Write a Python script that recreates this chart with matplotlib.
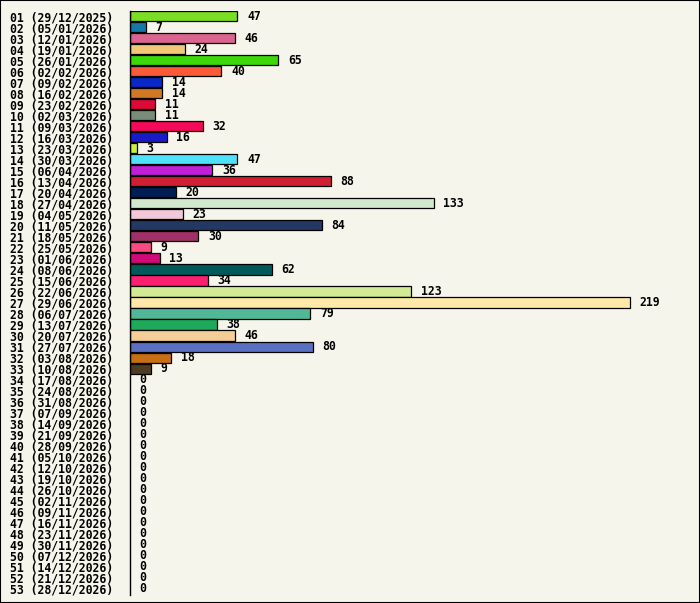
import matplotlib.pyplot as plt
from matplotlib.patches import Rectangle

# Weekly counts
week_labels = [
    "01 (29/12/2025)", "02 (05/01/2026)", "03 (12/01/2026)", "04 (19/01/2026)",
    "05 (26/01/2026)", "06 (02/02/2026)", "07 (09/02/2026)", "08 (16/02/2026)",
    "09 (23/02/2026)", "10 (02/03/2026)", "11 (09/03/2026)", "12 (16/03/2026)",
    "13 (23/03/2026)", "14 (30/03/2026)", "15 (06/04/2026)", "16 (13/04/2026)",
    "17 (20/04/2026)", "18 (27/04/2026)", "19 (04/05/2026)", "20 (11/05/2026)",
    "21 (18/05/2026)", "22 (25/05/2026)", "23 (01/06/2026)", "24 (08/06/2026)",
    "25 (15/06/2026)", "26 (22/06/2026)", "27 (29/06/2026)", "28 (06/07/2026)",
    "29 (13/07/2026)", "30 (20/07/2026)", "31 (27/07/2026)", "32 (03/08/2026)",
    "33 (10/08/2026)", "34 (17/08/2026)", "35 (24/08/2026)", "36 (31/08/2026)",
    "37 (07/09/2026)", "38 (14/09/2026)", "39 (21/09/2026)", "40 (28/09/2026)",
    "41 (05/10/2026)", "42 (12/10/2026)", "43 (19/10/2026)", "44 (26/10/2026)",
    "45 (02/11/2026)", "46 (09/11/2026)", "47 (16/11/2026)", "48 (23/11/2026)",
    "49 (30/11/2026)", "50 (07/12/2026)", "51 (14/12/2026)", "52 (21/12/2026)",
    "53 (28/12/2026)",
]
counts = [
    47, 7, 46, 24, 65, 40, 14, 14, 11, 11, 32, 16, 3, 47, 36, 88, 20, 133,
    23, 84, 30, 9, 13, 62, 34, 123, 219, 79, 38, 46, 80, 18, 9,
    0, 0, 0, 0, 0, 0, 0, 0, 0, 0, 0, 0, 0, 0, 0, 0, 0, 0, 0, 0,
]
bar_colors = [
    "#7ade24", "#1478a8", "#dc6490", "#f2c878", "#3cd80a", "#fa5a37",
    "#0a28c8", "#d07823", "#dc0a37", "#788c7a", "#f50a5a", "#1a1ac8",
    "#c8f03c", "#50e1fa", "#c020d8", "#d01e32", "#001e55", "#d0e8cc",
    "#f0c8d8", "#243864", "#a03068", "#fa4a80", "#d00a78", "#005a5a",
    "#fa2070", "#d2ea94", "#ffe8a8", "#50b896", "#1eaa5a", "#f5cd96",
    "#5a70c3", "#c86e14", "#4e3c20",
]

BG = "#f5f5eb"
W, H = 700, 603

fig = plt.figure(figsize=(W / 100, H / 100), dpi=100, facecolor=BG)
fig.patches.append(Rectangle((0, 0), 1, 1, transform=fig.transFigure,
                             fill=False, edgecolor="black", linewidth=1.5))

# axes: x from 130px, y rows from 10.5px to 594.5px
ax = fig.add_axes([130 / W, 1 - 594.5 / H, 560 / W, 584 / H])
ax.set_facecolor(BG)

positions = list(range(1, len(week_labels) + 1))
font = dict(family="DejaVu Sans Mono", weight="bold", size=8.3)

for pos, val, col in zip(positions, counts, bar_colors + [BG] * (len(counts) - len(bar_colors))):
    if val > 0:
        ax.barh(pos, val, height=0.92, color=col, edgecolor="black", linewidth=0.9)
    ax.annotate(str(val), xy=(val, pos), xytext=(7, 0), textcoords="offset points",
                va="center", ha="left", **font)

ax.set_xlim(0, 219 * 560 / 500)
ax.set_ylim(len(week_labels) + 0.5, 0.5)
ax.set_yticks(positions)
ax.set_yticklabels(week_labels, **font)
ax.tick_params(axis="y", length=0, pad=12)
ax.set_xticks([])
for side in ["top", "right", "bottom"]:
    ax.spines[side].set_visible(False)
ax.spines["left"].set_linewidth(1.0)

fig.savefig("out.png", dpi=100, facecolor=BG)
